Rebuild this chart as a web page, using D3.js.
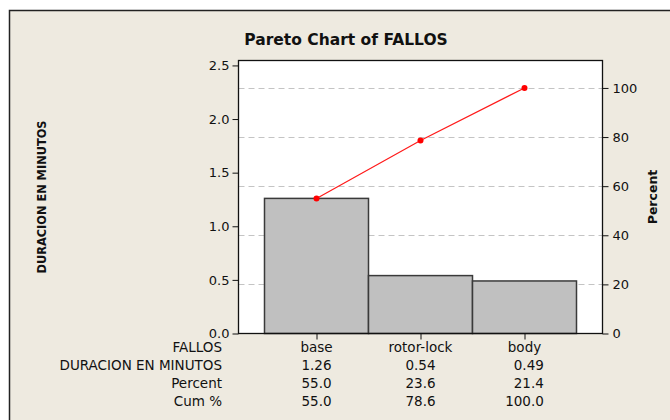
<!DOCTYPE html>
<html>
<head>
<meta charset="utf-8">
<script src="https://cdn.jsdelivr.net/npm/d3@7"></script>
<style>
  html, body { margin: 0; padding: 0; background: #ffffff; }
  svg { display: block; font-family: "DejaVu Sans", Verdana, sans-serif; }
</style>
</head>
<body>
<svg id="chart" width="670" height="420"></svg>
<script>
// Pareto data
const categories = ["base", "rotor-lock", "body"];
const durations = [1.26, 0.54, 0.49];
const percents = [55.0, 23.6, 21.4];
const cumPercents = [55.0, 78.6, 100.0];
const leftTicks = [0, 0.5, 1.0, 1.5, 2.0, 2.5];
const rightTicks = [0, 20, 40, 60, 80, 100];
const rowLabels = ["FALLOS", "DURACION EN MINUTOS", "Percent", "Cum %"];

const svg = d3.select("#chart");
const total = d3.sum(durations);

// frame of the graph window
svg.append("rect")
  .attr("x", 9.5).attr("y", 10.5)
  .attr("width", 700).attr("height", 430)
  .attr("fill", "#eeeae0")
  .attr("stroke", "#222").attr("stroke-width", 1.5);

const plot = { left: 238.5, right: 602.5, top: 60.5, bottom: 333.5 };

const x = d3.scaleLinear().domain([0.25, 3.75]).range([plot.left, plot.right]);
const yMax = 2.546;
const y = d3.scaleLinear().domain([0, yMax]).range([plot.bottom, plot.top]);
const yPct = d3.scaleLinear().domain([0, yMax / total * 100]).range([plot.bottom, plot.top]);

// plot area
svg.append("rect")
  .attr("x", plot.left).attr("y", plot.top)
  .attr("width", plot.right - plot.left).attr("height", plot.bottom - plot.top)
  .attr("fill", "#ffffff");

// dashed reference lines at the percent ticks
svg.append("g").selectAll("line")
  .data(rightTicks.filter(d => d > 0))
  .join("line")
  .attr("x1", plot.left).attr("x2", plot.right)
  .attr("y1", d => Math.round(yPct(d)) + 0.5).attr("y2", d => Math.round(yPct(d)) + 0.5)
  .attr("stroke", "#c4c4c4").attr("stroke-width", 1)
  .attr("stroke-dasharray", "6,4");

// bars
svg.append("g").selectAll("rect")
  .data(durations)
  .join("rect")
  .attr("x", (d, i) => x(i + 0.5))
  .attr("width", (d, i) => x(i + 1.5) - x(i + 0.5))
  .attr("y", d => y(d))
  .attr("height", d => y(0) - y(d))
  .attr("fill", "#c0c0c0")
  .attr("stroke", "#3a3a3a").attr("stroke-width", 1.5);

// cumulative percent line
const line = d3.line()
  .x((d, i) => x(i + 1))
  .y(d => yPct(d));
svg.append("path")
  .datum(cumPercents)
  .attr("d", line)
  .attr("fill", "none")
  .attr("stroke", "#ff1a1a").attr("stroke-width", 1.2);
svg.append("g").selectAll("circle")
  .data(cumPercents)
  .join("circle")
  .attr("cx", (d, i) => x(i + 1))
  .attr("cy", d => yPct(d))
  .attr("r", 3)
  .attr("fill", "#ff0000");

// plot border
svg.append("rect")
  .attr("x", plot.left).attr("y", plot.top)
  .attr("width", plot.right - plot.left).attr("height", plot.bottom - plot.top)
  .attr("fill", "none").attr("stroke", "#111").attr("stroke-width", 1.3);

// axes
const leftAxis = d3.axisLeft(y).tickValues(leftTicks).tickFormat(d3.format(".1f")).tickSize(6).tickPadding(3);
const gL = svg.append("g").attr("transform", `translate(${plot.left},0)`).call(leftAxis);
const rightAxis = d3.axisRight(yPct).tickValues(rightTicks).tickFormat(d3.format("d")).tickSize(6).tickPadding(4);
const gR = svg.append("g").attr("transform", `translate(${plot.right},0)`).call(rightAxis);
const bottomAxis = d3.axisBottom(x).tickValues([1, 2, 3]).tickFormat("").tickSize(6);
const gB = svg.append("g").attr("transform", `translate(0,${plot.bottom})`).call(bottomAxis);
[gL, gR, gB].forEach(g => {
  g.select(".domain").remove();
  g.selectAll(".tick line").attr("stroke", "#111");
  g.selectAll(".tick text").attr("fill", "#111").attr("font-size", 13)
    .attr("font-family", "DejaVu Sans, sans-serif");
});

// title
svg.append("text")
  .attr("x", 346).attr("y", 45)
  .attr("text-anchor", "middle")
  .attr("font-size", 15.5).attr("font-weight", "bold").attr("fill", "#111")
  .text("Pareto Chart of FALLOS");

// axis titles
svg.append("text")
  .attr("transform", "translate(46,197) rotate(-90)")
  .attr("text-anchor", "middle")
  .attr("font-size", 12).attr("font-weight", "bold").attr("fill", "#111")
  .attr("textLength", 153).attr("lengthAdjust", "spacingAndGlyphs")
  .text("DURACION EN MINUTOS");
svg.append("text")
  .attr("transform", "translate(657,197) rotate(-90)")
  .attr("text-anchor", "middle")
  .attr("font-size", 12.5).attr("font-weight", "bold").attr("fill", "#111")
  .text("Percent");

// data table beneath the chart
const rowY = [352, 370, 388, 406];
const table = svg.append("g").attr("font-size", 13.5).attr("fill", "#111");
table.selectAll("text.rowlabel")
  .data(rowLabels)
  .join("text")
  .attr("class", "rowlabel")
  .attr("x", 222).attr("y", (d, i) => rowY[i])
  .attr("text-anchor", "end")
  .text(d => d);

const fmt2 = d3.format(".2f"), fmt1 = d3.format(".1f");
categories.forEach((c, i) => {
  const cx = x(i + 1);
  table.append("text")
    .attr("x", cx).attr("y", rowY[0])
    .attr("text-anchor", "middle")
    .text(c);
  const nums = [fmt2(durations[i]), fmt1(percents[i]), fmt1(cumPercents[i])];
  const texts = nums.map((s, k) => table.append("text")
    .attr("y", rowY[k + 1])
    .attr("text-anchor", "end")
    .text(s));
  const w = d3.max(texts, t => t.node().getComputedTextLength());
  texts.forEach(t => t.attr("x", cx + w / 2));
});
</script>
</body>
</html>
